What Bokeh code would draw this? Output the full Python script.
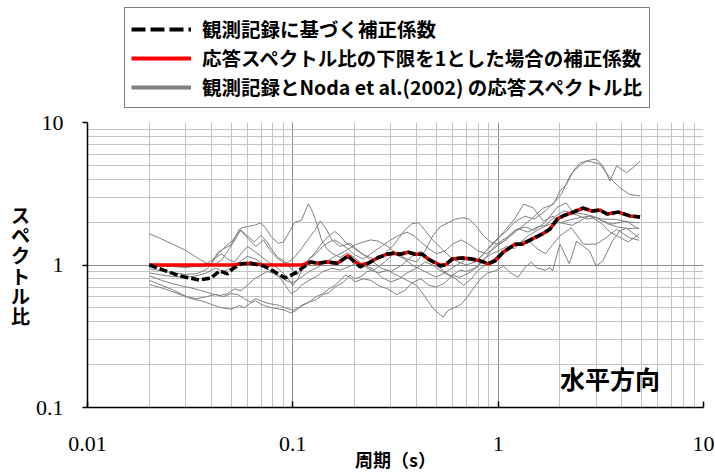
from bokeh.plotting import figure
from bokeh.layouts import column
from bokeh.models import Legend, LegendItem, Label, FixedTicker, CustomJSTickFormatter
from bokeh.embed import file_html
from bokeh.resources import INLINE

# ---------------- data ----------------
x_major = [0.01, 0.1, 1, 10]
y_major = [0.1, 1, 10]

# correction coefficient from observed records (black dashed)
black_t = [0.020, 0.024, 0.028, 0.035, 0.040, 0.044, 0.048, 0.051, 0.056, 0.062, 0.072, 0.080, 0.092,
           0.103, 0.111, 0.122, 0.132, 0.147, 0.165, 0.186, 0.197, 0.213, 0.233, 0.258, 0.288, 0.308,
           0.333, 0.365, 0.394, 0.427, 0.456, 0.522, 0.552, 0.597, 0.668, 0.747, 0.817, 0.893, 0.966,
           1.057, 1.21, 1.31, 1.46, 1.64, 1.79, 1.94, 2.07, 2.32, 2.59, 2.87, 3.13, 3.39, 3.84, 4.39, 4.91]
black_r = [1.00, 0.91, 0.84, 0.785, 0.81, 0.91, 0.865, 0.94, 1.02, 1.03, 0.985, 0.91, 0.81,
           0.88, 0.95, 1.05, 1.03, 1.05, 1.03, 1.16, 1.07, 0.97, 1.03, 1.12, 1.19, 1.21,
           1.19, 1.23, 1.19, 1.19, 1.10, 0.985, 1.00, 1.10, 1.12, 1.10, 1.07, 1.02, 1.07,
           1.23, 1.40, 1.40, 1.52, 1.65, 1.79, 2.10, 2.21, 2.35, 2.51, 2.39, 2.43, 2.28, 2.35, 2.21, 2.17]
# correction coefficient with lower limit 1 (red)
red_r = [1.00, 1.00, 1.00, 1.00, 1.00, 1.00, 1.00, 1.00, 1.02, 1.03, 1.00, 1.00, 1.00,
         1.00, 1.00, 1.05, 1.03, 1.05, 1.03, 1.16, 1.07, 1.00, 1.03, 1.12, 1.19, 1.21,
         1.19, 1.23, 1.19, 1.19, 1.10, 1.00, 1.00, 1.10, 1.12, 1.10, 1.07, 1.02, 1.07,
         1.23, 1.40, 1.40, 1.52, 1.65, 1.79, 2.10, 2.21, 2.35, 2.51, 2.39, 2.43, 2.28, 2.35, 2.21, 2.17]

# response spectral ratios, observed / Noda et al. (2002) (gray)
g1_t = [0.020, 0.023, 0.026, 0.030, 0.034, 0.038, 0.041, 0.045, 0.049, 0.053, 0.056, 0.060, 0.065, 0.070,
        0.074, 0.079, 0.085, 0.090, 0.096, 0.102, 0.110, 0.119, 0.125, 0.131, 0.138, 0.146, 0.156, 0.17,
        0.185, 0.20, 0.22, 0.25, 0.28, 0.31, 0.35, 0.39, 0.44, 0.50, 0.56, 0.63, 0.70, 0.78, 0.87, 0.97,
        1.08, 1.2, 1.33, 1.48, 1.66, 1.85, 2.0, 2.3, 2.79, 3.2, 3.77, 4.3, 4.86]
g1_r = [1.66, 1.52, 1.40, 1.27, 1.13, 1.03, 1.00, 1.08, 1.30, 1.55, 1.82, 1.86, 1.90, 1.98,
        1.80, 1.56, 1.42, 1.45, 1.70, 2.00, 2.05, 2.69, 2.35, 1.94, 1.50, 1.30, 1.20, 1.13,
        1.22, 1.12, 1.00, 0.93, 1.05, 1.20, 1.10, 0.98, 0.90, 0.82, 0.90, 1.00, 1.10, 1.05, 1.25, 1.45,
        1.75, 2.10, 2.67, 2.52, 2.03, 2.20, 1.98, 2.10, 2.21, 2.10, 2.09, 2.00, 1.98]

g2_t = [0.020, 0.024, 0.028, 0.032, 0.036, 0.040, 0.043, 0.046, 0.050, 0.055, 0.060, 0.066, 0.072, 0.078,
        0.085, 0.092, 0.10, 0.11, 0.12, 0.128, 0.136, 0.145, 0.155, 0.17, 0.19, 0.21, 0.24, 0.27, 0.30,
        0.34, 0.38, 0.42, 0.47, 0.52, 0.58, 0.65, 0.72, 0.80, 0.88, 0.96, 1.05, 1.15, 1.3, 1.45, 1.65,
        1.86, 2.0, 2.15, 2.32, 2.5, 2.79, 3.0, 3.24, 3.5, 3.77, 4.22, 4.6, 4.91]
g2_r = [1.00, 0.98, 0.97, 0.98, 0.97, 1.02, 1.22, 1.30, 1.38, 1.79, 1.55, 1.35, 1.50, 1.25,
        1.10, 1.02, 1.10, 1.30, 1.55, 1.75, 2.04, 1.80, 1.50, 1.35, 1.42, 1.25, 1.08, 0.95, 0.90,
        1.00, 1.15, 1.25, 1.10, 0.95, 0.85, 0.82, 0.88, 0.98, 1.15, 1.35, 1.50, 1.60, 1.85, 2.10, 2.50,
        2.67, 3.31, 3.68, 4.56, 5.20, 5.45, 5.54, 4.95, 3.89, 4.95, 4.44, 4.90, 5.37]

g3_t = [0.020, 0.023, 0.026, 0.030, 0.034, 0.038, 0.042, 0.045, 0.048, 0.052, 0.056, 0.060, 0.065, 0.070,
        0.076, 0.082, 0.088, 0.094, 0.10, 0.106, 0.113, 0.12, 0.13, 0.14, 0.15, 0.16, 0.17, 0.18, 0.2,
        0.22, 0.25, 0.28, 0.31, 0.35, 0.38, 0.41, 0.44, 0.48, 0.53, 0.58, 0.64, 0.70, 0.77, 0.85, 0.93,
        1.0, 1.1, 1.2, 1.35, 1.5, 1.7, 1.9, 2.03, 2.26, 2.5, 2.7, 2.9, 3.13, 3.5, 3.9, 4.37, 4.91]
g3_r = [0.94, 0.91, 0.88, 0.86, 0.87, 0.93, 1.12, 1.20, 1.10, 1.05, 1.20, 1.35, 1.25, 1.15,
        1.05, 0.98, 0.90, 0.82, 0.72, 0.80, 0.98, 1.10, 1.25, 1.45, 1.60, 1.72, 1.60, 1.45, 1.30,
        1.18, 1.10, 1.20, 1.38, 1.75, 1.95, 1.98, 1.75, 1.50, 1.30, 1.15, 1.05, 1.00, 1.05, 1.20, 1.40,
        1.55, 1.73, 2.00, 2.20, 2.10, 2.40, 2.80, 3.13, 4.33, 5.00, 5.37, 5.25, 5.10, 4.10, 3.49, 3.13, 3.05]

g4_t = [0.020, 0.023, 0.026, 0.030, 0.034, 0.038, 0.042, 0.046, 0.050, 0.055, 0.060, 0.066, 0.072, 0.078,
        0.085, 0.092, 0.10, 0.11, 0.12, 0.13, 0.145, 0.16, 0.18, 0.2, 0.22, 0.24, 0.26, 0.29, 0.32, 0.36,
        0.40, 0.44, 0.48, 0.52, 0.57, 0.62, 0.67, 0.72, 0.78, 0.85, 0.92, 1.0, 1.1, 1.2, 1.35, 1.5, 1.7,
        1.93, 2.14, 2.32, 2.6, 2.9, 3.24, 3.6, 4.22, 4.86]
g4_r = [0.88, 0.85, 0.83, 0.82, 0.84, 0.88, 0.95, 0.90, 0.95, 1.05, 1.15, 1.10, 1.00, 0.90,
        0.85, 0.78, 0.75, 0.82, 0.90, 0.95, 1.05, 1.15, 1.25, 1.38, 1.45, 1.50, 1.47, 1.35, 1.20, 1.10,
        1.05, 1.25, 1.60, 1.85, 1.98, 2.10, 2.15, 2.10, 1.88, 1.60, 1.45, 1.40, 1.50, 1.75, 1.85, 1.75, 2.00,
        2.53, 2.73, 2.33, 2.28, 2.20, 2.03, 1.94, 2.03, 1.78]

g5_t = [0.020, 0.023, 0.026, 0.029, 0.032, 0.036, 0.040, 0.044, 0.048, 0.052, 0.056, 0.060, 0.065, 0.070,
        0.075, 0.08, 0.086, 0.092, 0.098, 0.104, 0.11, 0.12, 0.13, 0.14, 0.155, 0.17, 0.19, 0.21, 0.23,
        0.26, 0.29, 0.32, 0.36, 0.40, 0.44, 0.48, 0.51, 0.54, 0.57, 0.61, 0.66, 0.71, 0.76, 0.82, 0.89,
        0.97, 1.06, 1.15, 1.25, 1.35, 1.45, 1.55, 1.7, 1.79, 1.84, 2.0, 2.22, 2.41, 2.6, 2.79, 3.0, 3.24,
        3.35, 3.6, 3.9, 4.22, 4.5, 4.86]
g5_r = [0.84, 0.78, 0.74, 0.71, 0.69, 0.66, 0.63, 0.61, 0.63, 0.68, 0.66, 0.72, 0.80, 0.85,
        0.90, 0.88, 0.82, 0.72, 0.63, 0.66, 0.72, 0.78, 0.83, 0.90, 0.95, 0.92, 0.98, 1.05, 0.95,
        0.88, 0.92, 0.85, 0.78, 0.72, 0.60, 0.50, 0.46, 0.43, 0.48, 0.50, 0.53, 0.60, 0.69, 0.80, 0.88,
        0.91, 0.98, 0.88, 0.82, 0.96, 1.05, 0.95, 0.92, 0.96, 0.91, 1.40, 1.02, 1.47, 1.35, 1.25, 0.98, 1.07,
        1.19, 1.47, 1.73, 1.81, 1.69, 1.55]

g6_t = [0.020, 0.023, 0.026, 0.029, 0.032, 0.036, 0.040, 0.045, 0.05, 0.055, 0.058, 0.062, 0.066, 0.07,
        0.075, 0.08, 0.086, 0.092, 0.098, 0.104, 0.11, 0.12, 0.13, 0.14, 0.15, 0.16, 0.175, 0.19, 0.2,
        0.215, 0.23, 0.25, 0.27, 0.3, 0.33, 0.36, 0.4, 0.44, 0.48, 0.52, 0.57, 0.62, 0.68, 0.74, 0.8,
        0.87, 0.95, 1.05, 1.15, 1.25, 1.4, 1.6, 1.8, 2.0, 2.3, 2.6, 2.79, 3.2, 3.5, 3.8, 4.3, 4.86]
g6_r = [0.78, 0.72, 0.67, 0.62, 0.58, 0.56, 0.53, 0.50, 0.49, 0.52, 0.50, 0.54, 0.56, 0.53,
        0.51, 0.50, 0.49, 0.48, 0.46, 0.48, 0.52, 0.55, 0.57, 0.62, 0.64, 0.70, 0.75, 0.85, 0.80,
        0.83, 0.90, 0.92, 0.82, 0.76, 0.80, 0.88, 0.95, 1.05, 1.00, 0.92, 0.85, 0.80, 0.72, 0.80, 0.92,
        1.00, 1.10, 1.25, 1.35, 1.40, 1.60, 1.80, 1.95, 1.98, 1.90, 2.10, 2.21, 1.95, 1.70, 1.60, 1.45, 1.65]

g7_t = [0.020, 0.023, 0.026, 0.03, 0.034, 0.038, 0.042, 0.046, 0.05, 0.054, 0.058, 0.062, 0.066, 0.07,
        0.075, 0.08, 0.086, 0.092, 0.1, 0.106, 0.112, 0.12, 0.13, 0.14, 0.15, 0.16, 0.17, 0.18, 0.19,
        0.2, 0.22, 0.24, 0.26, 0.29, 0.32, 0.35, 0.38, 0.42, 0.46, 0.5, 0.55, 0.6, 0.65, 0.7, 0.77,
        0.85, 0.93, 1.0, 1.1, 1.2, 1.3, 1.4, 1.55, 1.7, 1.85, 2.0, 2.27, 2.6, 3.0, 3.35, 3.77, 4.37, 4.86]
g7_r = [0.73, 0.69, 0.65, 0.60, 0.58, 0.60, 0.62, 0.60, 0.63, 0.62, 0.58, 0.55, 0.58, 0.56,
        0.54, 0.53, 0.52, 0.50, 0.48, 0.50, 0.52, 0.55, 0.60, 0.63, 0.68, 0.72, 0.78, 0.85, 0.82,
        0.76, 0.80, 0.78, 0.72, 0.68, 0.62, 0.66, 0.75, 0.80, 0.72, 0.70, 0.75, 0.85, 0.92, 0.90, 0.95,
        1.10, 1.20, 1.25, 1.35, 1.30, 1.45, 1.50, 1.30, 1.20, 1.40, 1.60, 1.83, 1.40, 1.40, 1.55, 1.78, 1.55, 1.49]

g8_t = [0.020, 0.023, 0.026, 0.03, 0.034, 0.038, 0.041, 0.044, 0.047, 0.05, 0.053, 0.056, 0.06, 0.065,
        0.07, 0.075, 0.08, 0.085, 0.09, 0.095, 0.1, 0.105, 0.11, 0.12, 0.13, 0.14, 0.15, 0.16, 0.17,
        0.185, 0.2, 0.22, 0.24, 0.27, 0.3, 0.33, 0.36, 0.39, 0.42, 0.46, 0.5, 0.55, 0.6, 0.66, 0.72,
        0.8, 0.88, 0.95, 1.05, 1.15, 1.25, 1.4, 1.55, 1.7, 1.9, 2.1, 2.4, 2.7, 3.0, 3.4, 3.8, 4.3, 4.86]
g8_r = [1.02, 1.00, 0.98, 0.96, 0.98, 1.02, 1.10, 1.22, 1.35, 1.45, 1.60, 1.75, 1.60, 1.45,
        1.62, 1.45, 1.25, 1.12, 1.08, 0.98, 0.92, 0.85, 0.95, 1.10, 1.20, 1.35, 1.45, 1.50, 1.42,
        1.30, 1.18, 1.10, 1.20, 1.35, 1.50, 1.62, 1.70, 1.60, 1.45, 1.30, 1.20, 1.25, 1.40, 1.50, 1.40,
        1.25, 1.20, 1.30, 1.45, 1.65, 1.80, 1.70, 1.85, 1.90, 2.20, 2.40, 2.25, 2.10, 2.15, 1.95, 1.85, 1.80, 1.82]

gray_series = [(g1_t, g1_r), (g2_t, g2_r), (g3_t, g3_r), (g4_t, g4_r),
               (g5_t, g5_r), (g6_t, g6_r), (g7_t, g7_r), (g8_t, g8_r)]

legend_labels = ["観測記録に基づく補正係数",
                 "応答スペクトル比の下限を1とした場合の補正係数",
                 "観測記録とNoda et al.(2002) の応答スペクトル比"]

BLACK_STYLE = dict(line_color="black", line_width=3.5, line_dash="8 3")
RED_STYLE = dict(line_color="#ff0000", line_width=3.5)

# ---------------- legend strip (separate figure above the chart) ----------------
# key lines reuse the series data; the strip's ranges keep them out of view
lg = figure(width=715, height=110, x_range=(-3, -2), y_range=(-3, -2),
            x_axis_location=None, y_axis_location=None,
            output_backend="svg", toolbar_location=None, min_border=0)
lg.outline_line_color = None
lg.grid.visible = False
k_black = lg.line(black_t, black_r, line_color="black", line_width=4, line_dash="14 5")
k_red = lg.line(black_t, red_r, line_color="#ff0000", line_width=4)
k_gray = lg.line(g1_t, g1_r, line_color="#808080", line_width=4)

legend = Legend(items=[LegendItem(label=legend_labels[0], renderers=[k_black]),
                       LegendItem(label=legend_labels[1], renderers=[k_red]),
                       LegendItem(label=legend_labels[2], renderers=[k_gray])],
                location=(37, 2))
legend.border_line_color = "black"
legend.border_line_width = 1.5
legend.background_fill_color = "white"
legend.background_fill_alpha = 1
legend.padding = 6
legend.spacing = 0
legend.margin = 0
legend.label_height = 22
legend.glyph_height = 22
legend.glyph_width = 60
legend.label_standoff = 11
legend.label_width = 441
legend.label_text_font = "Noto Sans CJK JP"
legend.label_text_font_style = "bold"
legend.label_text_font_size = "19.5px"
legend.label_text_color = "black"
lg.add_layout(legend)

# ---------------- main chart ----------------
p = figure(width=715, height=365, x_axis_type="log", y_axis_type="log",
           x_range=(0.01, 10), y_range=(0.1, 10),
           output_backend="svg", toolbar_location=None,
           min_border_left=87, min_border_right=12, min_border_top=12, min_border_bottom=68)
p.outline_line_color = None
p.background_fill_color = "white"

x_minor = [m * d for d in [0.01, 0.1, 1] for m in range(2, 10)]
y_minor = [m * d for d in [0.1, 1] for m in range(2, 10)]
p.xaxis.ticker = FixedTicker(ticks=x_major, minor_ticks=x_minor)
p.yaxis.ticker = FixedTicker(ticks=y_major, minor_ticks=y_minor)
fmt = "return Number(tick.toPrecision(6)).toString();"
p.xaxis.formatter = CustomJSTickFormatter(code=fmt)
p.yaxis.formatter = CustomJSTickFormatter(code=fmt)

for g in (p.xgrid, p.ygrid):
    g.grid_line_color = "#8c8c8c"
    g.grid_line_width = 1
    g.minor_grid_line_color = "#c4c4c4"
    g.minor_grid_line_width = 1

for ax in (p.xaxis, p.yaxis):
    ax.axis_line_color = "black"
    ax.axis_line_width = 1.5
    ax.major_tick_line_color = "black"
    ax.major_tick_line_width = 1.5
    ax.minor_tick_line_color = None
    ax.major_label_text_font = "Liberation Serif"
    ax.major_label_text_font_size = "22px"
    ax.major_label_text_color = "black"
    ax.axis_label_text_font = "Noto Sans CJK JP"
    ax.axis_label_text_font_style = "bold"
    ax.axis_label_text_color = "black"

p.xaxis.major_tick_in = 6
p.xaxis.major_tick_out = 0
p.xaxis.major_label_standoff = 25
p.xaxis.axis_label = "周期（s）"
p.xaxis.axis_label_text_font_size = "18px"
p.xaxis.axis_label_standoff = -8

p.yaxis.major_tick_in = 0
p.yaxis.major_tick_out = 5
p.yaxis.major_label_standoff = 19
p.yaxis.axis_label = "ス\nペ\nク\nト\nル\n比"
p.yaxis.axis_label_text_font_size = "19px"
p.yaxis.axis_label_text_line_height = 0.75
p.yaxis.axis_label_standoff = 3
try:
    p.yaxis.axis_label_orientation = "horizontal"
except Exception:
    pass

# gray ratio curves
for t, r in gray_series:
    p.line(t, r, line_color="#808080", line_width=1)

p.line(black_t, red_r, **RED_STYLE)
p.line(black_t, black_r, **BLACK_STYLE)

p.add_layout(Label(x=2.0, y=0.162, text="水平方向", text_font="Noto Sans CJK JP",
                   text_font_style="bold", text_font_size="25px", text_color="black",
                   text_align="left", text_baseline="middle"))

layout = column(lg, p, spacing=0)
open("out.html", "w").write(file_html(layout, INLINE))
